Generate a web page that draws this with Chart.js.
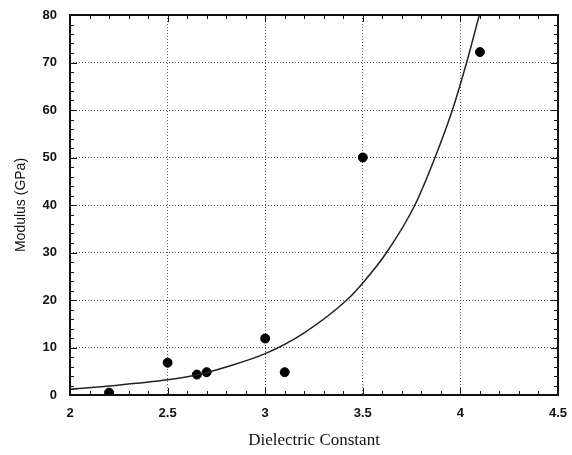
<!DOCTYPE html>
<html>
<head>
<meta charset="utf-8">
<script src="https://cdn.jsdelivr.net/npm/chart.js@4.4.0/dist/chart.umd.min.js"></script>
<style>
    html, body { margin: 0; padding: 0; background: #fff; }
    #wrap { width: 572px; height: 455px; }
</style>
</head>
<body>
<div id="wrap"><canvas id="myChart" width="572" height="455"></canvas></div>
<script>
'use strict';
//measured points
const measuredK = [2.2, 2.5, 2.65, 2.7, 3.0, 3.1, 3.5, 4.1];
const measuredModulus = [0.5, 6.8, 4.3, 4.8, 11.9, 4.8, 50, 72.2];
//fitted curve
const fitK = [2.0, 2.2, 2.5, 2.65, 2.8, 3.0, 3.2, 3.418, 3.5, 3.622, 3.767, 3.87, 3.959, 4.032, 4.097];
const fitModulus = [1.2, 1.9, 3.2, 4.2, 5.9, 8.7, 13.1, 20, 23.6, 30, 40, 50, 60, 70, 80];
//axes
const xTicks = [2, 2.5, 3, 3.5, 4, 4.5];
const yTicks = [0, 10, 20, 30, 40, 50, 60, 70, 80];

const toXY = (xs, ys) => xs.map((x, i) => ({ x: x, y: ys[i] }));

//frame + inward minor ticks on all four sides
const framePlugin = {
    id: 'frame',
    afterDraw(chart) {
        const ctx = chart.ctx;
        const a = chart.chartArea;
        const sx = chart.scales.x;
        const sy = chart.scales.y;
        ctx.save();
        ctx.strokeStyle = '#111';
        ctx.lineWidth = 1;
        for (let i = 0; i <= 25; i++) {
            const px = Math.round(sx.getPixelForValue(2 + i * 0.1)) + 0.5;
            const len = i % 5 === 0 ? 7 : 4;
            ctx.beginPath();
            ctx.moveTo(px, a.bottom);
            ctx.lineTo(px, a.bottom - len);
            ctx.moveTo(px, a.top);
            ctx.lineTo(px, a.top + len);
            ctx.stroke();
        }
        for (let v = 0; v <= 80; v += 2) {
            const py = Math.round(sy.getPixelForValue(v)) + 0.5;
            const len = v % 10 === 0 ? 7 : 4;
            ctx.beginPath();
            ctx.moveTo(a.left, py);
            ctx.lineTo(a.left + len, py);
            ctx.moveTo(a.right, py);
            ctx.lineTo(a.right - len, py);
            ctx.stroke();
        }
        ctx.lineWidth = 2;
        ctx.strokeRect(a.left, a.top, a.right - a.left, a.bottom - a.top);
        ctx.restore();
    }
};

const data = {
    datasets: [
        {
            label: 'fit',
            data: toXY(fitK, fitModulus),
            showLine: true,
            borderColor: '#222',
            borderWidth: 1.5,
            pointRadius: 0,
            cubicInterpolationMode: 'monotone',
            fill: false,
        },
        {
            label: 'measured',
            data: toXY(measuredK, measuredModulus),
            showLine: false,
            pointRadius: 4.5,
            pointBackgroundColor: '#000',
            pointBorderColor: '#000',
        },
    ],
};

const config = {
    type: 'scatter',
    data: data,
    plugins: [framePlugin],
    options: {
        responsive: false,
        animation: false,
        layout: { padding: { top: 15, right: 14, left: 0, bottom: 0 } },
        scales: {
            x: {
                type: 'linear',
                min: 2,
                max: 4.5,
                afterBuildTicks: (s) => { s.ticks = xTicks.map((v) => ({ value: v })); },
                afterFit: (s) => {
                    s.height = 60;
                    s.paddingLeft = 0;
                    s.paddingRight = 0;
                },
                grid: { color: '#555', lineWidth: 1, drawTicks: false },
                border: { display: false, dash: [1, 2] },
                ticks: {
                    color: '#111',
                    padding: 11,
                    maxRotation: 0,
                    font: { family: 'Liberation Sans', size: 13, weight: 'bold' },
                    callback: (v) => String(v),
                },
                title: {
                    display: true,
                    text: 'Dielectric Constant',
                    color: '#111',
                    padding: { top: 0, bottom: 4 },
                    font: { family: 'Liberation Serif', size: 17 },
                },
            },
            y: {
                type: 'linear',
                min: 0,
                max: 80,
                afterBuildTicks: (s) => { s.ticks = yTicks.map((v) => ({ value: v })); },
                afterFit: (s) => {
                    s.width = 70;
                    s.paddingTop = 0;
                    s.paddingBottom = 0;
                },
                grid: { color: '#555', lineWidth: 1, drawTicks: false },
                border: { display: false, dash: [1, 2] },
                ticks: {
                    color: '#111',
                    padding: 13,
                    font: { family: 'Liberation Sans', size: 13, weight: 'bold' },
                },
                title: {
                    display: true,
                    text: 'Modulus (GPa)',
                    color: '#111',
                    padding: { top: 13, bottom: 0 },
                    font: { family: 'Liberation Sans', size: 14 },
                },
            },
        },
        plugins: {
            legend: { display: false },
            tooltip: { enabled: false },
        },
    },
};
const myChart = new Chart(document.getElementById('myChart'), config);
</script>
</body>
</html>
